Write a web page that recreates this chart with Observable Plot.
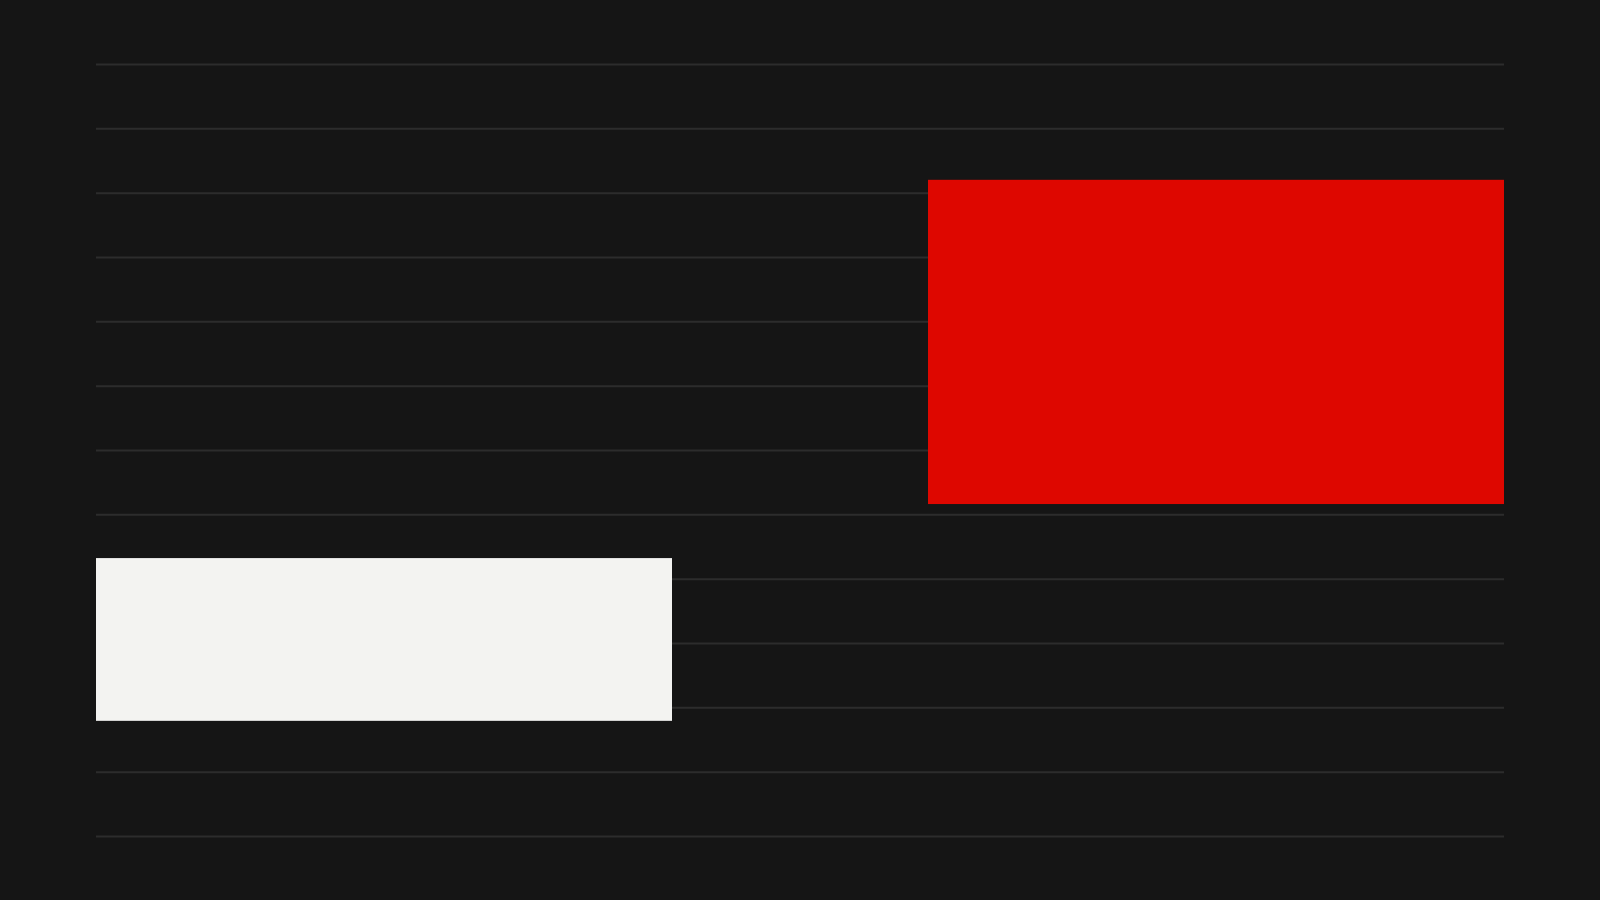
<!DOCTYPE html>
<html>
<head>
<meta charset="utf-8">
<script src="https://cdn.jsdelivr.net/npm/d3@7"></script>
<script src="https://cdn.jsdelivr.net/npm/@observablehq/plot@0.6"></script>
<style>
  html, body { margin: 0; padding: 0; background: #151515; }
  #chart svg { display: block; }
</style>
</head>
<body>
<div id="chart"></div>
<script>
// Data
const categories = ["A", "B"];
const startX = [0, 13];
const endX = [9, 22];
const lowValues = [17.9, 51.6];
const highValues = [43.2, 102];
const barColors = ["#f3f3f1", "#de0700"];
const gridTicks = d3.range(0, 121, 10);

const rows = categories.map((c, i) => ({
  category: c,
  x1: startX[i],
  x2: endX[i],
  y1: lowValues[i],
  y2: highValues[i],
  color: barColors[i]
}));

const chart = Plot.plot({
  width: 1600,
  height: 900,
  marginLeft: 96,
  marginRight: 96,
  marginTop: 64,
  marginBottom: 64,
  style: { background: "#151515" },
  x: { domain: [0, 22], axis: null },
  y: { domain: [0, 120], axis: null },
  marks: [
    Plot.ruleY(gridTicks, { stroke: "#2c2c2c", strokeWidth: 2 }),
    Plot.rect(rows, { x1: "x1", x2: "x2", y1: "y1", y2: "y2", fill: "color" })
  ]
});
document.getElementById("chart").append(chart);
</script>
</body>
</html>
